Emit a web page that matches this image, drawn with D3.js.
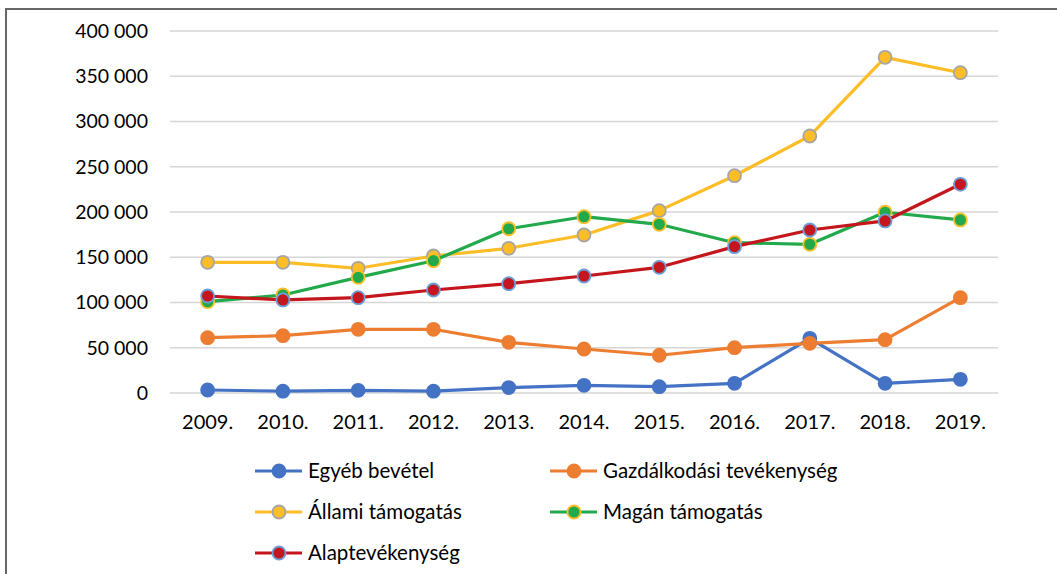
<!DOCTYPE html>
<meta charset="utf-8" />
<style>
    body { margin: 0; background: #fff; }
    text { font-family: Lato, "Open Sans", sans-serif; fill: #000; }
</style>
<svg width="1057" height="574"></svg>
<script src="https://d3js.org/d3.v7.min.js"></script>
<script>
    var svg = d3.select("svg");

    // data
    var years = ["2009.", "2010.", "2011.", "2012.", "2013.", "2014.", "2015.", "2016.", "2017.", "2018.", "2019."];
    var yTicks = [0, 50000, 100000, 150000, 200000, 250000, 300000, 350000, 400000];

    var egyeb = [3300, 2000, 3000, 2000, 6000, 8500, 7000, 10700, 60400, 10700, 15100];
    var gazd = [61100, 63300, 70400, 70400, 56000, 48600, 41700, 50100, 54900, 58900, 105300];
    var allami = [144400, 144400, 137800, 151400, 159900, 174600, 201500, 240100, 284000, 370900, 353900];
    var magan = [100900, 108300, 127800, 146200, 181500, 194800, 186400, 166100, 164300, 199700, 191200];
    var alap = [107200, 102800, 105300, 113800, 120800, 129300, 138900, 161700, 180100, 190100, 230600];

    var series = [
        { name: "Egyéb bevétel", values: egyeb, line: "#4472c4", fill: "#4472c4", stroke: "#4472c4" },
        { name: "Gazdálkodási tevékenység", values: gazd, line: "#ed7d31", fill: "#ed7d31", stroke: "#ed7d31" },
        { name: "Állami támogatás", values: allami, line: "#fdbd26", fill: "#fdbd26", stroke: "#a5a5a5" },
        { name: "Magán támogatás", values: magan, line: "#22a94b", fill: "#22a94b", stroke: "#fdbd26" },
        { name: "Alaptevékenység", values: alap, line: "#c4161c", fill: "#c4161c", stroke: "#6a9fd8" }
    ];

    // frame
    svg.append("path")
        .attr("d", "M6,574V9H1057")
        .attr("fill", "none")
        .attr("stroke", "#666")
        .attr("stroke-width", 2);

    var x = d3.scaleBand().domain(years).range([170, 998]);
    var y = d3.scaleLinear().domain([0, 400000]).range([393, 31]);

    var fmt = function(d) { return d3.format(",")(d).replace(/,/g, " "); };

    // grid
    svg.append("g")
        .selectAll("line")
        .data(yTicks)
        .enter()
        .append("line")
        .attr("x1", 170)
        .attr("x2", 998)
        .attr("y1", function(d) { return y(d); })
        .attr("y2", function(d) { return y(d); })
        .attr("stroke", "#d6d6d6")
        .attr("stroke-width", 1.5);

    // y labels
    svg.append("g")
        .selectAll("text")
        .data(yTicks)
        .enter()
        .append("text")
        .attr("x", 148)
        .attr("y", function(d) { return y(d); })
        .attr("dy", "0.35em")
        .attr("text-anchor", "end")
        .style("font-size", "19.5px")
        .text(fmt);

    // x labels
    svg.append("g")
        .selectAll("text")
        .data(years)
        .enter()
        .append("text")
        .attr("x", function(d) { return x(d) + x.bandwidth() / 2; })
        .attr("y", 429)
        .attr("text-anchor", "middle")
        .style("font-size", "20px")
        .text(function(d) { return d; });

    var line = d3.line()
        .x(function(d, i) { return x(years[i]) + x.bandwidth() / 2; })
        .y(function(d) { return y(d); });

    series.forEach(function(s) {
        var g = svg.append("g");
        g.append("path")
            .attr("d", line(s.values))
            .attr("fill", "none")
            .attr("stroke", s.line)
            .attr("stroke-width", 3.2)
            .attr("stroke-linejoin", "round");
        g.selectAll("circle")
            .data(s.values)
            .enter()
            .append("circle")
            .attr("cx", function(d, i) { return x(years[i]) + x.bandwidth() / 2; })
            .attr("cy", function(d) { return y(d); })
            .attr("r", 6.5)
            .attr("fill", s.fill)
            .attr("stroke", s.stroke)
            .attr("stroke-width", 1.8);
    });

    // legend
    var legendPos = [[255, 471], [550, 471], [255, 512], [550, 512], [255, 553]];
    series.forEach(function(s, i) {
        var p = legendPos[i];
        var g = svg.append("g").attr("transform", "translate(" + p[0] + "," + p[1] + ")");
        g.append("line")
            .attr("x1", 0).attr("x2", 47)
            .attr("stroke", s.line)
            .attr("stroke-width", 3.2);
        g.append("circle")
            .attr("cx", 24).attr("r", 6.5)
            .attr("fill", s.fill)
            .attr("stroke", s.stroke)
            .attr("stroke-width", 1.8);
        g.append("text")
            .attr("x", 53)
            .attr("dy", "0.35em")
            .style("font-size", "20.5px")
            .text(s.name);
    });
</script>
